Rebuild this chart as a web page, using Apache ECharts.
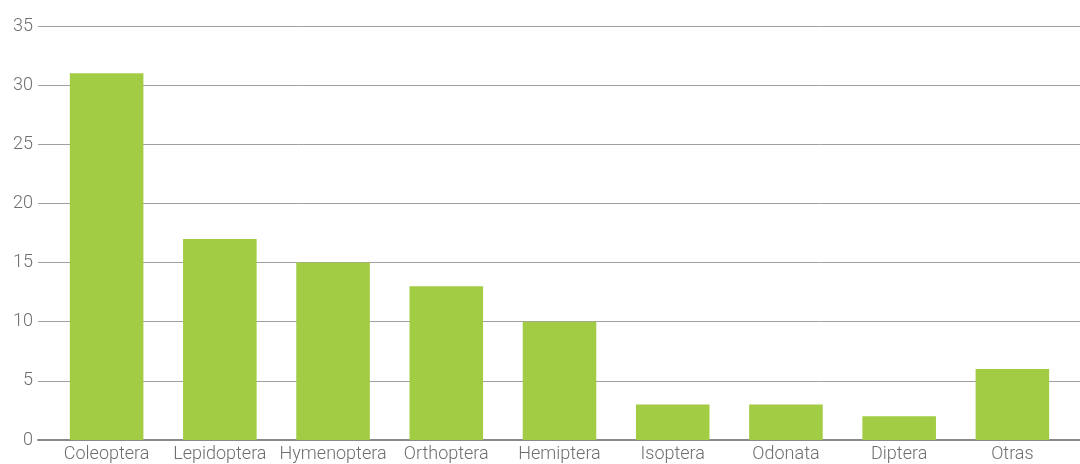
<!DOCTYPE html>
<html>
<head>
<meta charset="utf-8">
<style>
html,body{margin:0;padding:0;background:#fff;}
#chart{width:1080px;height:464px;}
</style>
<script src="https://cdn.jsdelivr.net/npm/echarts@6/dist/echarts.min.js"></script>
</head>
<body>
<div id="chart"></div>
<script>
const categories = ["Coleoptera","Lepidoptera","Hymenoptera","Orthoptera","Hemiptera","Isoptera","Odonata","Diptera","Otras"];
const values = [31, 17, 15, 13, 10, 3, 3, 2, 6];
const yTicks = {min: 0, max: 35, interval: 5};

const chart = echarts.init(document.getElementById('chart'), null, {renderer: 'canvas'});
const labelFont = {fontFamily: 'Roboto', fontWeight: 300, color: '#6e6e6e', fontSize: 18};
chart.setOption({
  animation: false,
  backgroundColor: '#fff',
  grid: [
    {left: 50, right: 11, top: 26, bottom: 24, containLabel: false},
    {left: 38, right: 0, top: 26, bottom: 24, containLabel: false}
  ],
  xAxis: [
    {
      type: 'category', data: categories, gridIndex: 0,
      axisLine: {show: false},
      axisTick: {show: false},
      axisLabel: Object.assign({margin: 5, interval: 0}, labelFont)
    },
    {
      type: 'value', gridIndex: 1, min: 0, max: 1, show: true,
      axisLine: {show: true, lineStyle: {color: '#8a8a8a', width: 2}},
      axisTick: {show: false}, axisLabel: {show: false}, splitLine: {show: false}
    }
  ],
  yAxis: [
    {
      type: 'value', gridIndex: 0, min: yTicks.min, max: yTicks.max, interval: yTicks.interval,
      axisLine: {show: false}, axisTick: {show: false}, axisLabel: {show: false}, splitLine: {show: false}
    },
    {
      type: 'value', gridIndex: 1, min: yTicks.min, max: yTicks.max, interval: yTicks.interval,
      axisLine: {show: false}, axisTick: {show: false},
      axisLabel: Object.assign({margin: 5, verticalAlign: 'middle', padding: [0, 0, 9, 0]}, labelFont),
      splitLine: {show: true, lineStyle: {color: '#a0a0a0', width: 1}}
    }
  ],
  series: [
    {
      type: 'bar', xAxisIndex: 0, yAxisIndex: 0, data: values,
      barWidth: '65%', z: 3,
      itemStyle: {color: '#a3cc45'}
    }
  ]
});
</script>
</body>
</html>
